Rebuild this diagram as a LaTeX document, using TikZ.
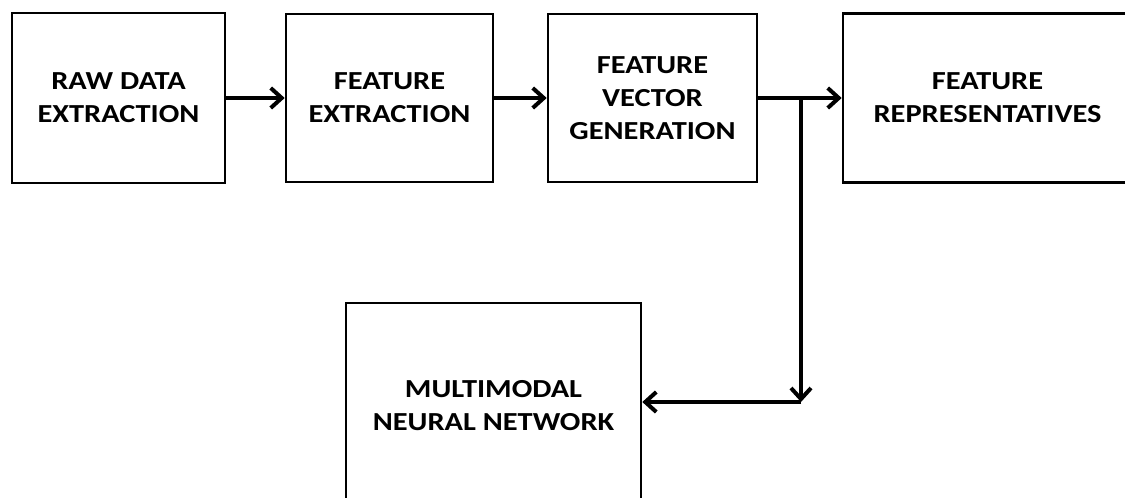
\documentclass[tikz,border=0pt]{standalone}
\usepackage{fontspec}
\setmainfont{Carlito}[FakeStretch=1.17]
\usetikzlibrary{arrows.meta}

\begin{document}
\begin{tikzpicture}[x=1pt,y=1pt,
  stage/.style={draw=black, line width=2.6pt, fill=white, inner sep=0pt,
    align=center, font=\fontsize{26}{33}\selectfont\bfseries},
  flow/.style={line width=4pt, -{Straight Barb[length=11pt,width=20pt,line width=4pt]}}]
  % page frame and clipping of the boxes that run off the edge
  \useasboundingbox (0,0) rectangle (1125,498);
  \clip (0,0) rectangle (1125,498);

  % processing stages
  \node[stage, minimum width=213pt, minimum height=170pt] (raw) at (118.5,400)
    {RAW DATA\\EXTRACTION};
  \node[stage, minimum width=207pt, minimum height=168pt] (fext) at (389.5,400)
    {FEATURE\\EXTRACTION};
  \node[stage, minimum width=209pt, minimum height=168pt] (fvec) at (652.5,400)
    {FEATURE\\VECTOR\\GENERATION};
  \node[stage, minimum width=289pt, minimum height=169pt] (frep) at (987.5,400)
    {FEATURE\\REPRESENTATIVES};
  \node[stage, minimum width=295pt, minimum height=206pt] (mmnn) at (493.5,92)
    {MULTIMODAL\\NEURAL NETWORK};

  % branch points of the output of the vector generation stage
  \coordinate (split) at (801,400);
  \coordinate (turn) at (801,96);

  % connectors
  \draw[flow] (raw.east) -- (fext.west);
  \draw[flow] (fext.east) -- (fvec.west);
  \draw[flow] (fvec.east) -- (frep.west);
  \draw[flow] (split) -- (turn);
  \draw[flow] (turn) -- (turn -| mmnn.east);
\end{tikzpicture}
\end{document}
